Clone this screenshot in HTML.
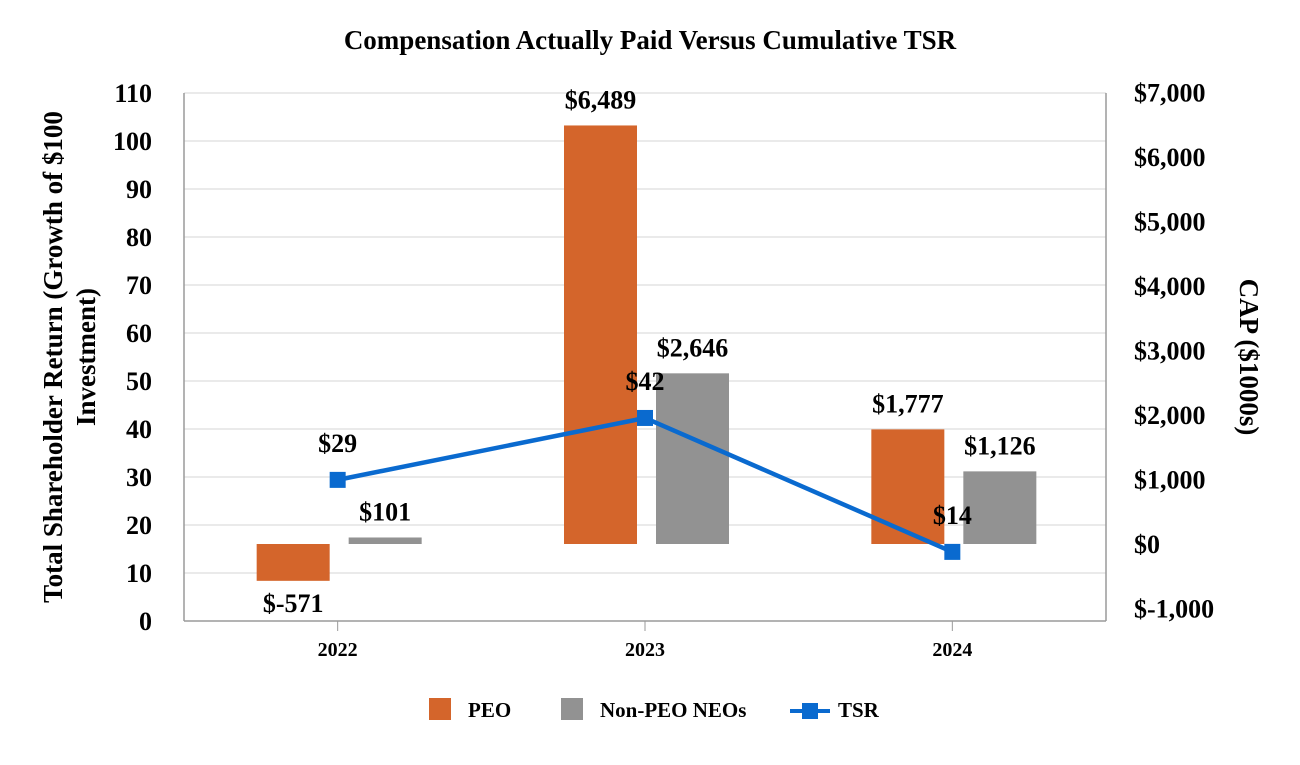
<!DOCTYPE html>
<html><head><meta charset="utf-8"><style>
body{margin:0;background:#fff;}
svg text{font-family:"Liberation Serif",serif;font-weight:bold;fill:#000;}
</style></head><body>
<svg id="c" width="1300" height="760">
<text x="650" y="49" font-size="27" text-anchor="middle">Compensation Actually Paid Versus Cumulative TSR</text>
<g id="grid"></g><g id="bars"></g><g id="line"></g><g id="axes"></g>
<text transform="translate(62,357) rotate(-90)" font-size="27" text-anchor="middle"><tspan x="0" dy="0">Total Shareholder Return (Growth of $100</tspan><tspan x="0" dy="33">Investment)</tspan></text>
<text transform="translate(1240,357) rotate(90)" font-size="27" text-anchor="middle">CAP ($1000s)</text>
<g>
<rect x="429" y="698" width="22" height="22" fill="#D4652B"/>
<text x="468" y="717" font-size="21">PEO</text>
<rect x="561" y="698" width="22" height="22" fill="#929292"/>
<text x="600" y="717" font-size="21">Non-PEO NEOs</text>
<line x1="790" y1="711" x2="830" y2="711" stroke="#0A6ACF" stroke-width="4"/>
<rect x="802" y="703" width="16" height="16" fill="#0A6ACF"/>
<text x="838" y="717" font-size="21">TSR</text>
</g>
</svg>
<script>
const categories=["2022","2023","2024"];
const peoValues=[-571,6489,1777];
const neoValues=[101,2646,1126];
const tsrValues=[29.4,42.3,14.4];
const leftTicks=[0,10,20,30,40,50,60,70,80,90,100,110];
const rightTicks=[-1000,0,1000,2000,3000,4000,5000,6000,7000];
const NS="http://www.w3.org/2000/svg";
const L=184,R=1106;
const yL=v=>621-v*4.8;
const yR=v=>544-v/1000*64.5;
const xC=i=>L+(R-L)/categories.length*(i+0.5);
const fmt=v=>"$"+(v<0?"-":"")+Math.abs(v).toLocaleString("en-US");
function mk(tag,attrs,parent,txt){const e=document.createElementNS(NS,tag);for(const k in attrs)e.setAttribute(k,attrs[k]);if(txt!==undefined)e.textContent=txt;document.getElementById(parent).appendChild(e);return e;}
leftTicks.forEach(t=>{
  const g=mk("line",{x1:L,x2:R,y1:yL(t),y2:yL(t),stroke:t===0?"#9a9a9a":"#e3e3e3","stroke-width":1.5},"grid");
  
  
  const tx=mk("text",{x:152,y:yL(t)+9,"font-size":26,"text-anchor":"end"},"axes",String(t));
  
  
});
rightTicks.forEach(t=>{
  const tx=mk("text",{x:1134,y:yR(t)+9,"font-size":26},"axes",fmt(t));
  
  
});
[L,R].forEach(x=>{const a=mk("line",{x1:x,x2:x,y1:93,y2:621,stroke:"#9a9a9a","stroke-width":1.5},"axes");
  
  });
categories.forEach((c,i)=>{
  const cx=xC(i);
  const tk=mk("line",{x1:cx,x2:cx,y1:621,y2:631,stroke:"#9a9a9a"},"axes");
  
  
  const t=mk("text",{x:cx,y:656,"font-size":20,"text-anchor":"middle"},"axes",c);
  
  
  [[peoValues[i],"#D4652B",-81,"peo"],[neoValues[i],"#929292",11,"neo"]].forEach(([v,col,off,nm])=>{
    const y0=yR(0),y1=yR(v);
    const b=mk("rect",{x:cx+off,y:Math.min(y0,y1),width:73,height:Math.max(Math.abs(y1-y0),1),fill:col},"bars");
    
    
    const ly=v<0?y1+31:y1-17;
    const lb=mk("text",{x:cx+off+36.5,y:ly,"font-size":26,"text-anchor":"middle"},"bars",fmt(v));
    
    
  });
});
const pl=mk("polyline",{points:tsrValues.map((v,i)=>xC(i)+","+yL(v)).join(" "),fill:"none",stroke:"#0A6ACF","stroke-width":4.5},"line");


tsrValues.forEach((v,i)=>{
  const m=mk("rect",{x:xC(i)-8,y:yL(v)-8,width:16,height:16,fill:"#0A6ACF"},"line");
  
  
  const t=mk("text",{x:xC(i),y:yL(v)-28,"font-size":26,"text-anchor":"middle"},"line","$"+Math.round(v));
  
  
});
</script>
</body></html>
